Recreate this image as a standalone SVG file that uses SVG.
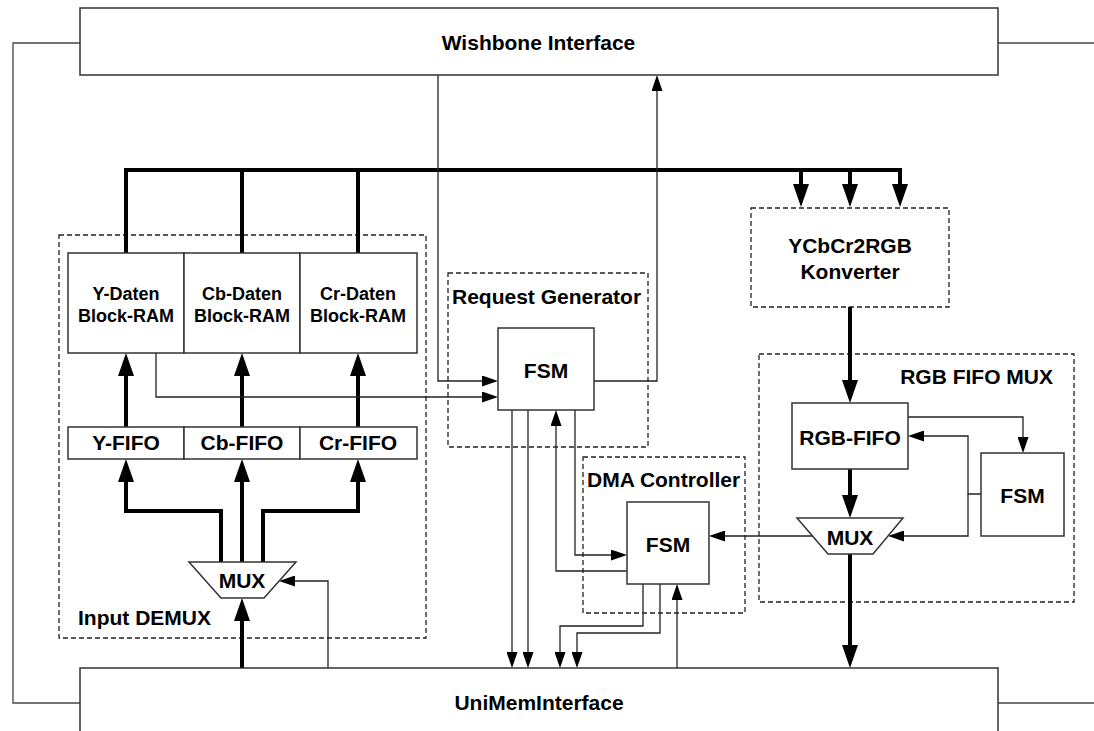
<svg xmlns="http://www.w3.org/2000/svg" width="1094" height="731" viewBox="0 0 1094 731">
  <style>
    text { font-family: "Liberation Sans", Arial, sans-serif; font-weight: bold; fill: #000; }
    .lbl { font-size: 21px; }
    .ram { font-size: 18px; }
    .mid { text-anchor: middle; }
    .box { fill: #fff; stroke: #333; stroke-width: 1.5; }
    .group { fill: none; stroke: #222; stroke-width: 1.3; stroke-dasharray: 5 3; }
    .thin { fill: none; stroke: #222; stroke-width: 1.3; }
    .thick { fill: none; stroke: #000; stroke-width: 4; stroke-linejoin: miter; }
    .outline { fill: none; stroke: #444; stroke-width: 1.3; }
  </style>
  <defs>
    <marker id="arrow-thick" markerUnits="userSpaceOnUse" markerWidth="23" markerHeight="16" refX="13" refY="8" orient="auto">
      <path d="M0,0 L23,8 L0,16 z" fill="#000"/>
    </marker>
    <marker id="arrow-thin" markerUnits="userSpaceOnUse" markerWidth="16" markerHeight="11" refX="8" refY="5.5" orient="auto">
      <path d="M0,0 L16,5.5 L0,11 z" fill="#000"/>
    </marker>
  </defs>

  <rect width="1094" height="731" fill="#fff"/>

  <!-- grouping frames -->
  <g id="input-demux">
    <rect class="group" x="59" y="235" width="367" height="403"/>
    <text class="lbl" x="78" y="625">Input DEMUX</text>
  </g>
  <g id="request-generator">
    <rect class="group" x="448" y="273" width="200" height="174"/>
    <text class="lbl" x="452" y="304">Request Generator</text>
  </g>
  <g id="dma-controller">
    <rect class="group" x="583" y="457" width="162" height="156"/>
    <text class="lbl" x="587" y="487">DMA Controller</text>
  </g>
  <g id="ycbcr2rgb">
    <rect class="group" x="751" y="208" width="198" height="99"/>
    <text class="lbl mid" x="850" y="253">YCbCr2RGB</text>
    <text class="lbl mid" x="850" y="279">Konverter</text>
  </g>
  <g id="rgb-fifo-mux">
    <rect class="group" x="759" y="354" width="315" height="248"/>
    <text class="lbl" x="1053" y="384" text-anchor="end">RGB FIFO MUX</text>
  </g>

  <!-- connectors -->
  <g id="connectors">
    <path class="outline" d="M80,43 H13 V703 H80"/>
    <path class="outline" d="M998,43 H1094"/>
    <path class="outline" d="M998,703 H1094"/>

    <!-- wide data paths -->
    <path class="thick" d="M126,253 V170 H900 V197" marker-end="url(#arrow-thick)"/>
    <path class="thick" d="M242,170 V253"/>
    <path class="thick" d="M358,170 V253"/>
    <path class="thick" d="M801,170 V197" marker-end="url(#arrow-thick)"/>
    <path class="thick" d="M850,170 V197" marker-end="url(#arrow-thick)"/>
    <path class="thick" d="M126,427 V363" marker-end="url(#arrow-thick)"/>
    <path class="thick" d="M242,427 V363" marker-end="url(#arrow-thick)"/>
    <path class="thick" d="M358,427 V363" marker-end="url(#arrow-thick)"/>
    <path class="thick" d="M221,562 V511 H126 V469" marker-end="url(#arrow-thick)"/>
    <path class="thick" d="M242,562 V469" marker-end="url(#arrow-thick)"/>
    <path class="thick" d="M263,562 V511 H358 V469" marker-end="url(#arrow-thick)"/>
    <path class="thick" d="M242,668 V608" marker-end="url(#arrow-thick)"/>
    <path class="thick" d="M850,307 V393" marker-end="url(#arrow-thick)"/>
    <path class="thick" d="M850,469 V508" marker-end="url(#arrow-thick)"/>
    <path class="thick" d="M850,554 V658" marker-end="url(#arrow-thick)"/>

    <!-- control signals -->
    <path class="thin" d="M438,75 V381 H490" marker-end="url(#arrow-thin)"/>
    <path class="thin" d="M156,353 V397 H490" marker-end="url(#arrow-thin)"/>
    <path class="thin" d="M594,381 H657 V83" marker-end="url(#arrow-thin)"/>
    <path class="thin" d="M512,410 V660" marker-end="url(#arrow-thin)"/>
    <path class="thin" d="M528,410 V660" marker-end="url(#arrow-thin)"/>
    <path class="thin" d="M627,571 H556 V418" marker-end="url(#arrow-thin)"/>
    <path class="thin" d="M575,410 V555 H619" marker-end="url(#arrow-thin)"/>
    <path class="thin" d="M643,584 V626 H560 V660" marker-end="url(#arrow-thin)"/>
    <path class="thin" d="M660,584 V633 H577 V660" marker-end="url(#arrow-thin)"/>
    <path class="thin" d="M677,668 V592" marker-end="url(#arrow-thin)"/>
    <path class="thin" d="M812,536 H717" marker-end="url(#arrow-thin)"/>
    <path class="thin" d="M908,417 H1023 V445" marker-end="url(#arrow-thin)"/>
    <path class="thin" d="M981,494 H968 V436 H916" marker-end="url(#arrow-thin)"/>
    <path class="thin" d="M968,494 V536 H896" marker-end="url(#arrow-thin)"/>
    <path class="thin" d="M328,668 V581 H287" marker-end="url(#arrow-thin)"/>
  </g>

  <!-- blocks -->
  <g id="wishbone-interface">
    <rect class="box" x="80" y="8" width="918" height="67"/>
    <text class="lbl mid" x="538.5" y="50">Wishbone Interface</text>
  </g>
  <g id="unimem-interface">
    <rect class="box" x="80" y="668" width="918" height="80"/>
    <text class="lbl mid" x="539" y="710">UniMemInterface</text>
  </g>

  <g id="y-ram">
    <rect class="box" x="68" y="253" width="116" height="100"/>
    <text class="ram mid" x="126" y="300">Y-Daten</text>
    <text class="ram mid" x="126" y="322">Block-RAM</text>
  </g>
  <g id="cb-ram">
    <rect class="box" x="184" y="253" width="116" height="100"/>
    <text class="ram mid" x="242" y="300">Cb-Daten</text>
    <text class="ram mid" x="242" y="322">Block-RAM</text>
  </g>
  <g id="cr-ram">
    <rect class="box" x="300" y="253" width="117" height="100"/>
    <text class="ram mid" x="358" y="300">Cr-Daten</text>
    <text class="ram mid" x="358" y="322">Block-RAM</text>
  </g>

  <g id="y-fifo">
    <rect class="box" x="68" y="427" width="116" height="32"/>
    <text class="lbl mid" x="126" y="450">Y-FIFO</text>
  </g>
  <g id="cb-fifo">
    <rect class="box" x="184" y="427" width="116" height="32"/>
    <text class="lbl mid" x="242" y="450">Cb-FIFO</text>
  </g>
  <g id="cr-fifo">
    <rect class="box" x="300" y="427" width="117" height="32"/>
    <text class="lbl mid" x="358" y="450">Cr-FIFO</text>
  </g>

  <g id="demux-mux">
    <polygon class="box" points="189,562 296,562 264,598 221,598"/>
    <text class="lbl mid" x="242" y="588">MUX</text>
  </g>

  <g id="request-fsm">
    <rect class="box" x="498" y="328" width="96" height="82"/>
    <text class="lbl mid" x="546" y="378">FSM</text>
  </g>

  <g id="dma-fsm">
    <rect class="box" x="627" y="502" width="82" height="82"/>
    <text class="lbl mid" x="668" y="552">FSM</text>
  </g>

  <g id="rgb-fifo">
    <rect class="box" x="792" y="403" width="116" height="66"/>
    <text class="lbl mid" x="850" y="445">RGB-FIFO</text>
  </g>
  <g id="rgb-fsm">
    <rect class="box" x="981" y="453" width="83" height="83"/>
    <text class="lbl mid" x="1022.5" y="503">FSM</text>
  </g>
  <g id="rgb-mux">
    <polygon class="box" points="797,518 903,518 873,554 828,554"/>
    <text class="lbl mid" x="850" y="545">MUX</text>
  </g>
</svg>
